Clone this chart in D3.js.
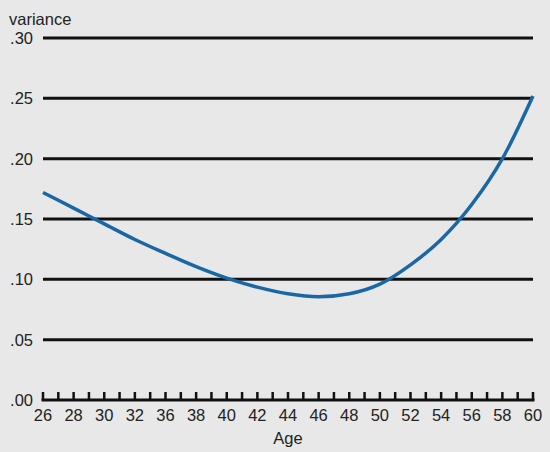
<!DOCTYPE html>
<html>
<head>
<meta charset="utf-8">
<script src="https://cdn.jsdelivr.net/npm/d3@7"></script>
<style>
  body { margin: 0; background: #e8e8e8; }
  svg { display: block; }
  text { font-family: "Liberation Sans", Arial, sans-serif; fill: #222; }
</style>
</head>
<body>
<div id="chart"></div>
<script>
// Age labels as printed on the axis (34 is skipped in the original)
const ageLabels = ["26", "28", "30", "32", "36", "38", "40", "42", "44", "46", "48", "50", "52", "54", "56", "58", "60"];
// variance read at each labelled position
const variance = [0.172, 0.159, 0.146, 0.133, 0.1215, 0.1105, 0.101, 0.0935, 0.088, 0.0855, 0.088, 0.096, 0.112, 0.133, 0.162, 0.200, 0.252];
const yTicks = [0, 0.05, 0.10, 0.15, 0.20, 0.25, 0.30];

const width = 550, height = 452;
const margin = {top: 38, right: 17, bottom: 52, left: 43};
const fontSize = 16.5;

const svg = d3.select("#chart").append("svg")
  .attr("width", width).attr("height", height);

svg.append("rect").attr("width", width).attr("height", height).attr("fill", "#e8e8e8");

// Scales
const x = d3.scaleLinear()
  .domain([0, ageLabels.length - 1])
  .range([margin.left, width - margin.right]);
const y = d3.scaleLinear()
  .domain([0, 0.30])
  .range([height - margin.bottom, margin.top]);

const fmt = v => d3.format(".2f")(v).replace(/^0/, "");

// Grid lines
svg.append("g").selectAll("line")
  .data(yTicks.filter(d => d > 0))
  .join("line")
    .attr("x1", margin.left).attr("x2", width - margin.right)
    .attr("y1", d => y(d)).attr("y2", d => y(d))
    .attr("stroke", "#111").attr("stroke-width", 3);

// Y labels
svg.append("g").selectAll("text")
  .data(yTicks)
  .join("text")
    .attr("x", 33)
    .attr("y", d => y(d) + 6)
    .attr("text-anchor", "end")
    .attr("font-size", fontSize)
    .text(fmt);

svg.append("text")
  .attr("x", 9).attr("y", 25)
  .attr("font-size", fontSize)
  .text("variance");

// X axis baseline and ticks
const base = y(0);
svg.append("line")
  .attr("x1", margin.left - 1.5).attr("x2", width - margin.right + 1.5)
  .attr("y1", base).attr("y2", base)
  .attr("stroke", "#111").attr("stroke-width", 3);

svg.append("g").selectAll("line")
  .data(d3.range(0, ageLabels.length - 0.99, 0.5))
  .join("line")
    .attr("x1", d => x(d)).attr("x2", d => x(d))
    .attr("y1", base).attr("y2", base - 8)
    .attr("stroke", "#111").attr("stroke-width", 2.5);

svg.append("g").selectAll("text")
  .data(ageLabels)
  .join("text")
    .attr("x", (d, i) => x(i))
    .attr("y", base + 21)
    .attr("text-anchor", "middle")
    .attr("font-size", fontSize)
    .text(d => d);

svg.append("text")
  .attr("x", 288)
  .attr("y", 444)
  .attr("text-anchor", "middle")
  .attr("font-size", fontSize)
  .text("Age");

// Curve
const line = d3.line()
  .x((d, i) => x(i))
  .y(d => y(d))
  .curve(d3.curveMonotoneX);

svg.append("path")
  .datum(variance)
  .attr("d", line)
  .attr("fill", "none")
  .attr("stroke", "#1a67a6")
  .attr("stroke-width", 3.5);
</script>
</body>
</html>
